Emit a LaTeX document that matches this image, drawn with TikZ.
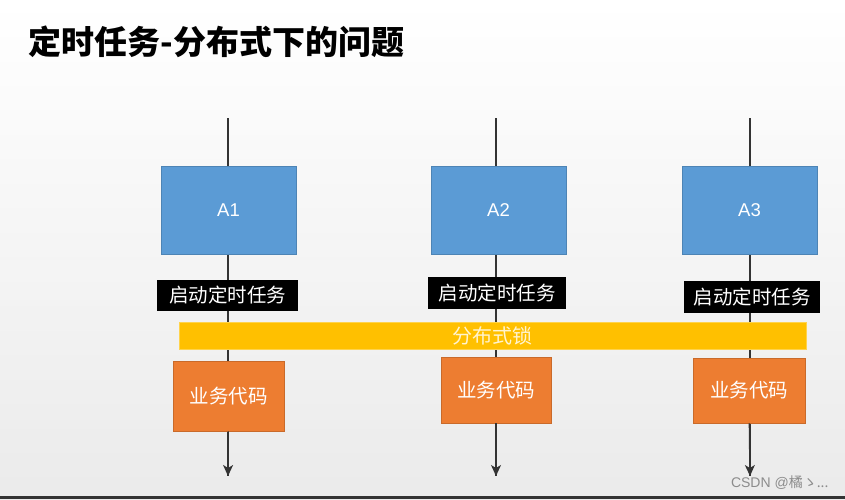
\documentclass[tikz,border=0pt]{standalone}
\usepackage{fontspec}
\setmainfont{Noto Sans CJK SC}
\newfontfamily\latinsans{Liberation Sans}
\usetikzlibrary{arrows.meta}
\definecolor{boxblue}{HTML}{5B9BD5}
\definecolor{boxorange}{HTML}{ED7D31}
\definecolor{baryellow}{HTML}{FFC000}
\definecolor{bartext}{HTML}{FFF4D0}
\definecolor{linegray}{HTML}{333333}
\tikzset{
  bluebox/.style={fill=boxblue, draw=boxblue!85!black, line width=0.6pt, inner sep=0pt,
    minimum width=135pt, minimum height=88pt, text=white, font=\latinsans\fontsize{18.5}{20}\selectfont},
  blacklabel/.style={fill=black, inner sep=0pt, minimum height=31pt, text=white,
    font=\fontsize{19.5}{21}\selectfont},
  orangebox/.style={fill=boxorange, draw=boxorange!85!black, line width=0.6pt, inner sep=0pt,
    text=white, font=\fontsize{19.5}{21}\selectfont},
  lockbar/.style={fill=baryellow, draw=baryellow!70!white, line width=0.8pt, inner sep=0pt,
    minimum width=627pt, minimum height=27pt, text=bartext, font=\fontsize{20}{21}\selectfont},
  flow/.style={draw=linegray, line width=1.4pt},
  flowarrow/.style={flow, -{Stealth[length=11pt,width=10pt,inset=3pt]}}
}
\begin{document}
\begin{tikzpicture}[x=1pt,y=-1pt]
\useasboundingbox (0,0) rectangle (845,499);
\shade[top color=white, middle color=black!3, bottom color=black!8] (0,0) rectangle (845,499);
\fill[black!80] (0,496) rectangle (845,499);

\node[anchor=west, font=\bfseries\fontsize{33}{36}\selectfont] (title) at (25,42) {定时任务-分布式下的问题};

% top coordinates and arrow ends
\coordinate (t1) at (228,118);
\coordinate (t2) at (496,118);
\coordinate (t3) at (750,118);
\coordinate (e1) at (228,476);
\coordinate (e2) at (496,476);
\coordinate (e3) at (750,476);

% background lines (drawn first so nodes cover them)
\draw[flow] (t1) -- (e1);
\draw[flow] (t2) -- (e2);
\draw[flow] (t3) -- (e3);

\node[bluebox] (A1) at (228.5,210) {A1};
\node[bluebox] (A2) at (498.5,210) {A2};
\node[bluebox] (A3) at (749.5,210) {A3};

\node[blacklabel, minimum width=141pt] (L1) at (227.5,295.5) {启动定时任务};
\node[blacklabel, minimum width=138pt, minimum height=32pt] (L2) at (497,293) {启动定时任务};
\node[blacklabel, minimum width=136pt, minimum height=32pt] (L3) at (752,297) {启动定时任务};

\node[lockbar] (lock) at (492.5,335.5) {分布式锁};

\node[orangebox, minimum width=111pt, minimum height=70pt] (O1) at (228.5,396) {业务代码};
\node[orangebox, minimum width=110pt, minimum height=66pt] (O2) at (496,390) {业务代码};
\node[orangebox, minimum width=112pt, minimum height=65pt] (O3) at (749,390.5) {业务代码};

% arrow tips at the ends
\draw[flowarrow] (O1) -- (e1);
\draw[flowarrow] (O2) -- (e2);
\draw[flowarrow] (O3) -- (e3);

\node[anchor=east, text=black!45, font=\fontsize{14}{16}\selectfont] (mark) at (832,483) {{\latinsans CSDN @}橘ゝ...};
\end{tikzpicture}
\end{document}
